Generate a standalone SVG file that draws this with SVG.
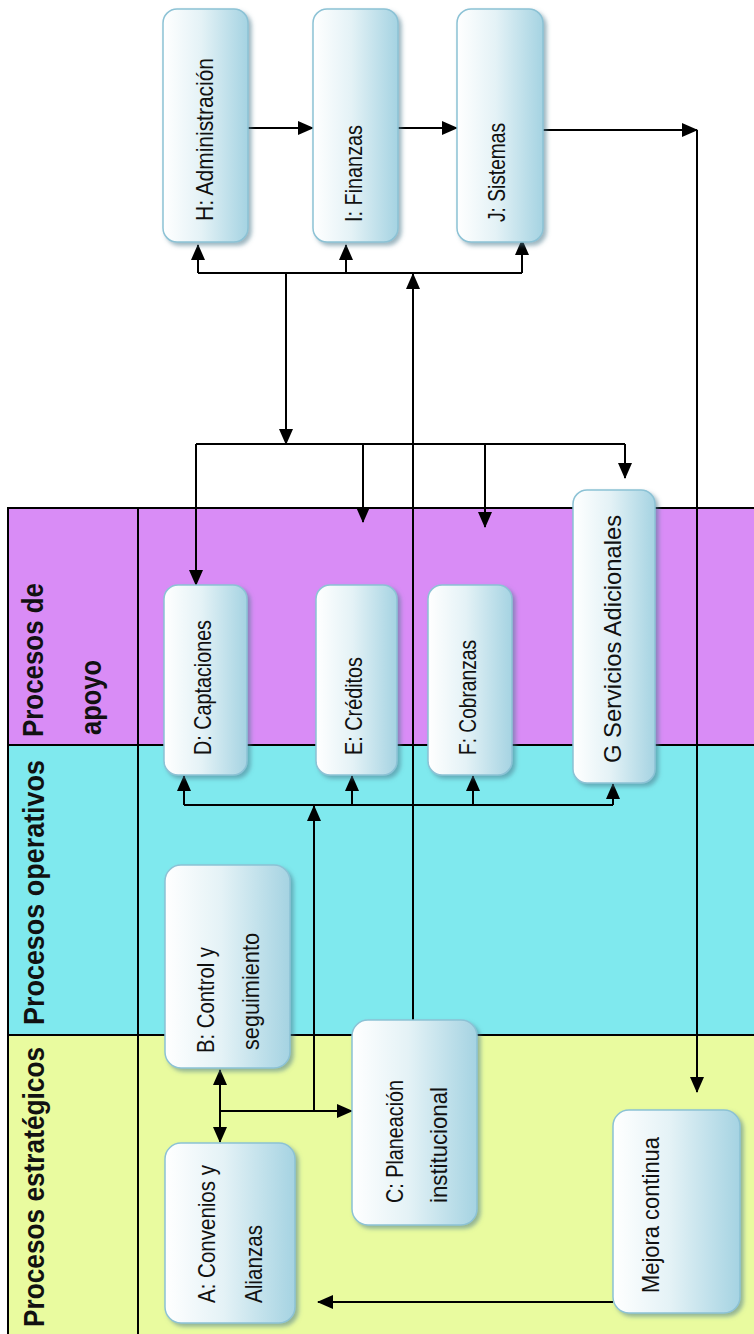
<svg xmlns="http://www.w3.org/2000/svg" width="754" height="1334" viewBox="0 0 754 1334">
<defs>
<linearGradient id="ng" x1="0" y1="0" x2="1" y2="0">
<stop offset="0" stop-color="#ffffff"/>
<stop offset="0.45" stop-color="#e4f2f6"/>
<stop offset="1" stop-color="#a5d3e2"/>
</linearGradient>
<filter id="sh" x="-20%" y="-10%" width="140%" height="120%">
<feDropShadow dx="3" dy="3" stdDeviation="2" flood-color="#4d7a8c" flood-opacity="0.55"/>
</filter>
<marker id="ah" markerUnits="userSpaceOnUse" markerWidth="16" markerHeight="14" viewBox="0 0 16 14" refX="15" refY="7" orient="auto-start-reverse">
<path d="M0,0 L16,7 L0,14 z" fill="#000"/>
</marker>
</defs>
<style>
.node{fill:url(#ng);stroke:#8cc2d5;stroke-width:1.5;filter:url(#sh)}
.t{font-family:"Liberation Sans",Arial,sans-serif;font-size:24px;fill:#111}
.h{font-family:"Liberation Sans",Arial,sans-serif;font-size:30px;font-weight:bold;fill:#111}
.c{fill:none;stroke:#000;stroke-width:2}
.a{marker-end:url(#ah)}
.grid{stroke:#000;stroke-width:2;fill:none}
</style>
<rect width="754" height="1334" fill="#ffffff"/>
<g id="lanes">
<rect x="8" y="508" width="746" height="237" fill="#d98cf6"/>
<rect x="8" y="745" width="746" height="290" fill="#7fe9ee"/>
<rect x="8" y="1035" width="746" height="299" fill="#e9fb9f"/>
<path class="grid" d="M8,1334 V508 H754 M8,745 H754 M8,1035 H754 M138,508 V1334"/>
<text class="h" transform="translate(43,737) rotate(-90)" textLength="154" lengthAdjust="spacingAndGlyphs">Procesos de</text>
<text class="h" transform="translate(101,735) rotate(-90)" textLength="75" lengthAdjust="spacingAndGlyphs">apoyo</text>
<text class="h" transform="translate(44,1025) rotate(-90)" textLength="265" lengthAdjust="spacingAndGlyphs">Procesos operativos</text>
<text class="h" transform="translate(44,1327) rotate(-90)" textLength="280" lengthAdjust="spacingAndGlyphs">Procesos estratégicos</text>
</g>
<g id="connectors">
<path class="c a" d="M248,128 H313"/>
<path class="c a" d="M398,128 H457"/>
<path class="c a" d="M543,130 H697"/>
<path class="c a" d="M697,130 V1092"/>
<path class="c" d="M198,273 H522"/>
<path class="c a" d="M198,273 V245"/>
<path class="c a" d="M346,273 V245"/>
<path class="c a" d="M522,273 V240"/>
<path class="c a" d="M286,273 V444"/>
<path class="c" d="M196,444 H625"/>
<path class="c a" d="M196,444 V585"/>
<path class="c a" d="M363,444 V522"/>
<path class="c a" d="M485,444 V527"/>
<path class="c a" d="M625,444 V478"/>
<path class="c a" d="M413,1020 V274"/>
<path class="c" d="M184,805 H613"/>
<path class="c a" d="M184,805 V776"/>
<path class="c a" d="M352,805 V776"/>
<path class="c a" d="M473,805 V776"/>
<path class="c a" d="M613,805 V784"/>
<path class="c a" d="M314,1111 V806"/>
<path class="c a" d="M220,1111 H352"/>
<path class="c a" d="M220,1111 V1070"/>
<path class="c a" d="M220,1111 V1142"/>
<path class="c a" d="M613,1302 H318"/>
</g>
<g id="nodeH"><rect class="node" x="163" y="9" width="85" height="233" rx="14"/>
<text class="t" transform="translate(213,221) rotate(-90)" textLength="163" lengthAdjust="spacingAndGlyphs">H: Administración</text></g>
<g id="nodeI"><rect class="node" x="313" y="9" width="85" height="233" rx="14"/>
<text class="t" transform="translate(362,222) rotate(-90)" textLength="97" lengthAdjust="spacingAndGlyphs">I: Finanzas</text></g>
<g id="nodeJ"><rect class="node" x="457" y="9" width="86" height="233" rx="14"/>
<text class="t" transform="translate(505,222) rotate(-90)" textLength="99" lengthAdjust="spacingAndGlyphs">J: Sistemas</text></g>
<g id="nodeD"><rect class="node" x="164" y="585" width="83" height="190" rx="14"/>
<text class="t" transform="translate(211,755) rotate(-90)" textLength="135" lengthAdjust="spacingAndGlyphs">D: Captaciones</text></g>
<g id="nodeE"><rect class="node" x="316" y="585" width="81" height="190" rx="14"/>
<text class="t" transform="translate(362,755) rotate(-90)" textLength="98" lengthAdjust="spacingAndGlyphs">E: Créditos</text></g>
<g id="nodeF"><rect class="node" x="428" y="585" width="84" height="190" rx="14"/>
<text class="t" transform="translate(476,755) rotate(-90)" textLength="115" lengthAdjust="spacingAndGlyphs">F: Cobranzas</text></g>
<g id="nodeG"><rect class="node" x="573" y="490" width="82" height="293" rx="14"/>
<text class="t" transform="translate(621,763) rotate(-90)" textLength="248" lengthAdjust="spacingAndGlyphs">G Servicios Adicionales</text></g>
<g id="nodeB"><rect class="node" x="165" y="865" width="125" height="203" rx="16"/>
<text class="t" transform="translate(214,1053) rotate(-90)" textLength="106" lengthAdjust="spacingAndGlyphs">B: Control y</text>
<text class="t" transform="translate(259,1050) rotate(-90)" textLength="117" lengthAdjust="spacingAndGlyphs">seguimiento</text></g>
<g id="nodeA"><rect class="node" x="165" y="1143" width="130" height="180" rx="16"/>
<text class="t" transform="translate(215,1303) rotate(-90)" textLength="138" lengthAdjust="spacingAndGlyphs">A: Convenios y</text>
<text class="t" transform="translate(262,1303) rotate(-90)" textLength="78" lengthAdjust="spacingAndGlyphs">Alianzas</text></g>
<g id="nodeC"><rect class="node" x="352" y="1020" width="125" height="205" rx="16"/>
<text class="t" transform="translate(403,1203) rotate(-90)" textLength="123" lengthAdjust="spacingAndGlyphs">C: Planeación</text>
<text class="t" transform="translate(447,1203) rotate(-90)" textLength="116" lengthAdjust="spacingAndGlyphs">institucional</text></g>
<g id="nodeM"><rect class="node" x="613" y="1110" width="127" height="203" rx="16"/>
<text class="t" transform="translate(659,1293) rotate(-90)" textLength="156" lengthAdjust="spacingAndGlyphs">Mejora continua</text></g>
</svg>
